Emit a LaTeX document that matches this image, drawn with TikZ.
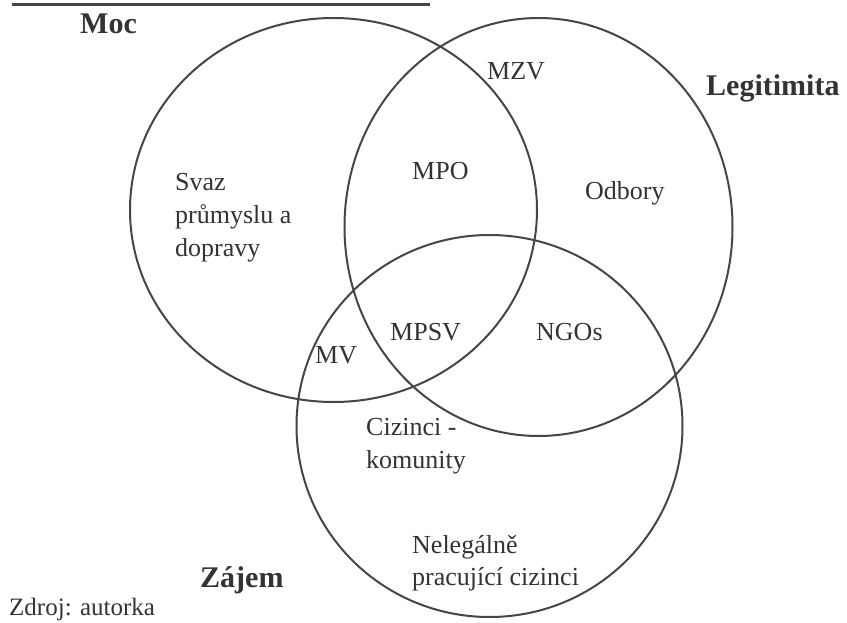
\documentclass[tikz,border=0pt]{standalone}
\usepackage{fontspec}
\setmainfont{Liberation Serif}
\usetikzlibrary{shapes.geometric}
\definecolor{ink}{HTML}{333333}
\definecolor{lineink}{HTML}{464646}
\begin{document}
\begin{tikzpicture}[x=1pt,y=-1pt,
  ring/.style={draw=lineink,line width=2pt,ellipse,inner sep=0pt},
  lbl/.style={text=ink,font=\fontsize{26}{33}\selectfont,inner sep=0pt,anchor=base west},
  big/.style={text=ink,font=\bfseries\fontsize{30}{36}\selectfont,inner sep=0pt,anchor=base west},
  ]
\useasboundingbox[fill=white] (0,0) rectangle (847,622);
% cut-off rule at the top
\coordinate (rulea) at (12,4.5);
\coordinate (ruleb) at (430,4.5);
\draw[lineink,line width=3pt] (rulea) -- (ruleb);
% the three sets
\node[ring,minimum width=407pt,minimum height=384pt] (moc) at (333.5,210) {};
\node[ring,minimum width=388pt,minimum height=418pt] (leg) at (538.5,227) {};
\node[ring,minimum width=386pt,minimum height=382pt] (zaj) at (489.5,426) {};
% set titles
\node[big] (tmoc) at (80,33) {Moc};
\node[big] (tleg) at (706,95) {Legitimita};
\node[big] (tzaj) at (200,587) {Zájem};
% members
\node[lbl] (mzv) at (487,79) {MZV};
\node[lbl] (mpo) at (412,179) {MPO};
\node[lbl] (svaz1) at (175,190) {Svaz};
\node[lbl] (svaz2) at (175,223) {průmyslu a};
\node[lbl] (svaz3) at (175,256) {dopravy};
\node[lbl] (odb) at (585,199) {Odbory};
\node[lbl] (mpsv) at (390,340) {MPSV};
\node[lbl] (ngo) at (536,340) {NGOs};
\node[lbl] (mv) at (315,363) {MV};
\node[lbl] (ciz1) at (366,435) {Cizinci -};
\node[lbl] (ciz2) at (366,468) {komunity};
\node[lbl] (nel1) at (412,553) {Nelegálně};
\node[lbl] (nel2) at (412,585) {pracující cizinci};
% source
\node[lbl,font=\fontsize{25}{30}\selectfont] (zdroj) at (9,615) {Zdroj: autorka};
\end{tikzpicture}
\end{document}
